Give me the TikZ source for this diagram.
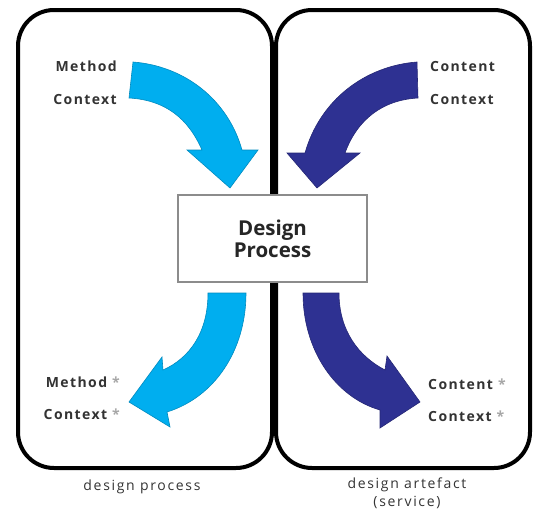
\documentclass[tikz,border=0pt]{standalone}
\usepackage{fontspec}
\setmainfont{Open Sans}
\newfontfamily\lblfont[LetterSpace=10]{Open Sans}
\newfontfamily\capfont[LetterSpace=12]{Open Sans}
\definecolor{cyanarrow}{HTML}{00AEEF}
\definecolor{darkarrow}{HTML}{2E3192}
\definecolor{txtgray}{HTML}{333333}
\begin{document}
\begin{tikzpicture}[x=1pt,y=-1pt,
  panel/.style={draw=black,line width=4pt,rounded corners=36pt},
  lbl/.style={font=\lblfont\bfseries\fontsize{14}{16}\selectfont,text=txtgray,inner sep=0pt},
  captext/.style={font=\capfont\fontsize{14}{18}\selectfont,text=txtgray,inner sep=0pt,align=center},
  arrowL/.style={fill=cyanarrow,draw=cyanarrow!80!black,line width=0.6pt,line join=miter},
  arrowR/.style={fill=darkarrow,draw=darkarrow!80!black,line width=0.6pt,line join=miter},
  centerbox/.style={draw=black!45,line width=1.6pt,fill=white,minimum width=189pt,minimum height=87pt,
    align=center,font=\bfseries\fontsize{20.5}{22}\selectfont,text=black!85}]
\useasboundingbox (0,0) rectangle (536,514);
% panels
\draw[panel] (18,10) rectangle (272,468);
\draw[panel] (276,10) rectangle (530,468);
% arrows
\fill[arrowL] (133,62) .. controls (185,66) and (228,100) .. (242,150) -- (258,150) -- (230,188) -- (187,150) -- (202,150) .. controls (188,118) and (165,100) .. (129,98) -- cycle;
\fill[arrowR] (417,62) .. controls (365,66) and (320,100) .. (305,153) -- (287,153) -- (317,188) -- (360,153) -- (345,153) .. controls (357,120) and (382,100) .. (418,98) -- cycle;
\fill[arrowL] (208,293) -- (246,293) .. controls (246,350) and (215,397) .. (167,412) -- (170,427) -- (129,402) -- (162,357) -- (163,370) .. controls (190,358) and (208,332) .. (208,293) -- cycle;
\fill[arrowR] (303,293) -- (339,293) .. controls (339,330) and (358,356) .. (385,370) -- (387,356) -- (420,402) -- (380,428) -- (380,410) .. controls (335,397) and (303,350) .. (303,293) -- cycle;
% center box
\node[centerbox] (dp) at (272.5,238.5) {Design\\Process};
% labels
\node[lbl,anchor=east] (m1) at (117,66) {Method};
\node[lbl,anchor=east] (c1) at (117,99) {Context};
\node[lbl,anchor=west] (ct1) at (430,66) {Content};
\node[lbl,anchor=west] (c2) at (430,99) {Context};
\node[lbl,anchor=east] (m2) at (120,382) {Method \textcolor{black!35}{*}};
\node[lbl,anchor=east] (c3) at (120,414) {Context \textcolor{black!35}{*}};
\node[lbl,anchor=west] (ct2) at (428,384) {Content \textcolor{black!35}{*}};
\node[lbl,anchor=west] (c4) at (428,416) {Context \textcolor{black!35}{*}};
% captions
\node[captext] (cp1) at (142,487) {design process};
\node[captext,anchor=north] (cp2) at (407,478) {design artefact\\(service)};
\end{tikzpicture}
\end{document}
